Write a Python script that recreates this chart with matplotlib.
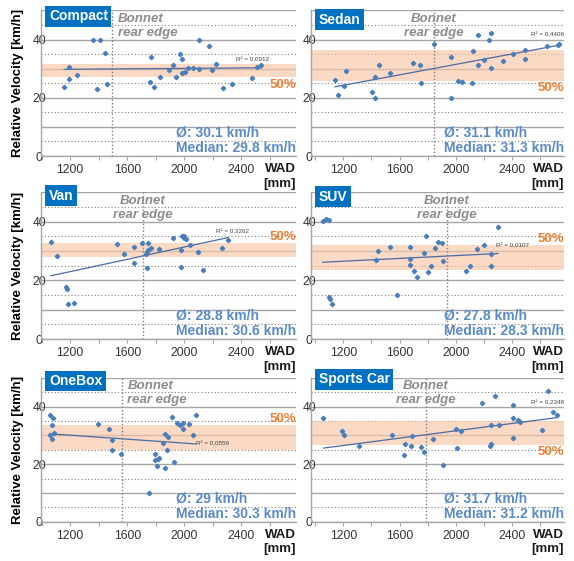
import matplotlib
matplotlib.use('Agg')
import matplotlib.pyplot as plt
import numpy as np

plt.rcParams['font.family'] = ['Liberation Sans', 'DejaVu Sans']

# ---- data ----
titles = ['Compact', 'Sedan', 'Van', 'SUV', 'OneBox', 'Sports Car']

compact_wad = [1158, 1188, 1188, 1247, 1360, 1386, 1412, 1447, 1461, 1760, 1765, 1784, 1831, 1894, 1922, 1944,
               1972, 1984, 1984, 2002, 2024, 2064, 2106, 2106, 2172, 2191, 2224, 2273, 2332, 2478, 2513, 2541]
compact_vel = [23.8, 30.6, 26.5, 27.9, 40.0, 22.9, 39.7, 35.4, 24.7, 25.3, 34.1, 23.8, 27.3, 29.6, 31.1, 27.2,
               35.1, 33.3, 28.6, 28.8, 30.2, 30.3, 40.0, 29.9, 37.8, 29.5, 31.7, 23.3, 24.8, 26.9, 30.5, 31.1]

sedan_wad = [1141, 1164, 1207, 1217, 1402, 1425, 1425, 1456, 1532, 1693, 1745, 1752, 1845, 1968, 1968, 2018,
             2046, 2113, 2125, 2156, 2158, 2201, 2234, 2248, 2248, 2338, 2409, 2492, 2492, 2651, 2724, 2736]
sedan_vel = [26.1, 20.9, 24.0, 29.3, 22.1, 20.1, 27.0, 31.3, 28.6, 32.1, 31.1, 25.1, 38.4, 34.1, 19.8, 25.8,
             25.4, 25.1, 36.1, 31.2, 41.6, 33.0, 39.8, 42.3, 30.1, 32.8, 34.9, 36.3, 33.3, 37.9, 38.1, 38.6]

van_wad = [1066, 1108, 1172, 1179, 1186, 1224, 1525, 1576, 1645, 1649, 1706, 1734, 1736, 1736, 1746,
           1748, 1765, 1824, 1922, 1976, 1979, 1984, 1995, 2000, 2014, 2040, 2099, 2132, 2264, 2308]
van_vel = [33.2, 28.2, 17.6, 17.2, 11.9, 12.4, 32.4, 29.1, 31.4, 25.9, 32.8, 28.9, 24.3, 29.8, 32.6,
           30.2, 31.0, 30.6, 34.4, 24.7, 30.3, 35.1, 35.3, 34.3, 34.0, 32.0, 29.8, 23.6, 31.1, 33.8]

suv_wad = [1053, 1077, 1101, 1101, 1108, 1117, 1429, 1447, 1535, 1583, 1677, 1677, 1677, 1703, 1726,
           1774, 1786, 1802, 1826, 1852, 1876, 1902, 1908, 2075, 2103, 2151, 2198, 2251, 2253, 2300]
suv_vel = [40.2, 40.9, 40.6, 14.2, 13.7, 12.0, 27.1, 29.9, 31.3, 14.9, 31.3, 27.4, 25.3, 23.1, 21.1,
           29.5, 35.1, 23.0, 25.0, 31.0, 33.0, 32.8, 26.5, 23.2, 24.9, 30.7, 32.2, 25.0, 29.0, 38.2]

onebox_wad = [1059, 1071, 1059, 1071, 1082, 1087, 1395, 1471, 1494, 1496, 1558, 1751, 1791, 1795, 1809, 1812,
              1824, 1852, 1866, 1868, 1882, 1887, 1913, 1929, 1948, 1972, 1988, 1988, 2035, 2059, 2080]
onebox_vel = [37.1, 33.6, 30.1, 28.7, 36.2, 30.7, 34.1, 32.3, 28.4, 24.8, 23.6, 10.0, 23.6, 21.4, 19.5, 21.9,
              22.2, 27.5, 18.8, 30.6, 24.8, 29.5, 36.4, 20.7, 34.4, 33.5, 34.2, 32.4, 34.0, 30.1, 37.1]

sports_wad = [1059, 1193, 1207, 1311, 1546, 1631, 1642, 1682, 1691, 1753, 1772, 1835, 1908, 2005, 2012, 2040,
              2186, 2240, 2252, 2254, 2280, 2306, 2405, 2407, 2407, 2445, 2459, 2614, 2654, 2689, 2718]
sports_vel = [36.2, 31.4, 30.2, 26.5, 30.3, 23.1, 27.2, 26.5, 29.9, 25.9, 24.2, 28.9, 19.6, 32.3, 25.8, 31.6,
              41.4, 26.5, 27.0, 33.5, 43.8, 33.7, 40.6, 36.2, 29.2, 35.5, 34.6, 31.9, 45.5, 38.0, 37.2]

wads = [compact_wad, sedan_wad, van_wad, suv_wad, onebox_wad, sports_wad]
vels = [compact_vel, sedan_vel, van_vel, suv_vel, onebox_vel, sports_vel]

band_low = [27.0, 25.7, 28.1, 23.4, 24.9, 26.7]
band_high = [31.5, 36.3, 32.6, 32.2, 33.8, 35.2]
bonnet_x = [1495, 1845, 1710, 1935, 1560, 1785]
means = ['30.1', '31.1', '28.8', '27.8', '29', '31.7']
medians = ['29.8', '31.3', '30.6', '28.3', '30.3', '31.2']
r2_text = ['0,0012', '0,4406', '0,3262', '0,0107', '0,0559', '0,2348']

# ---- layout / style ----
rects = [[0.0714, 0.7219, 0.444, 0.2594], [0.5413, 0.7219, 0.4413, 0.2594],
         [0.0714, 0.3957, 0.444, 0.2613], [0.5413, 0.3957, 0.4413, 0.2613],
         [0.0714, 0.0701, 0.444, 0.2561], [0.5413, 0.0701, 0.4413, 0.2561]]
xlims = [(995, 2782), (968, 2770)] * 3
title_y = [0.959, 0.938, 0.979, 0.972, 0.979, 0.99]
pct_y = [24.3, 23.2, 34.7, 34.2, 35.9, 24.4]
r2_pos = [(2478, 33.3, 'center'), (2770, 41.7, 'right'), (2335, 36.6, 'center'),
          (2400, 31.9, 'center'), (2200, 27.3, 'center'), (2770, 41.5, 'right')]
bonnet_left = [True, False, False, False, True, False]

blue_pts = '#4a7ebb'
blue_txt = '#5a8ac6'
trend_c = '#4a6aa3'

fig = plt.figure(figsize=(5.74, 5.61), dpi=100)

for i in range(6):
    ax = fig.add_axes(rects[i])
    x = np.array(wads[i])
    y = np.array(vels[i])
    ax.set_xlim(*xlims[i])
    ax.set_ylim(0, 50)

    ax.set_yticks([0, 10, 20, 30, 40, 50])
    ax.set_yticklabels(['0', '', '20', '', '40', ''])
    ax.set_yticks([5, 15, 25, 35, 45], minor=True)
    ax.set_xticks([1200, 1600, 2000, 2400])
    ax.set_xticks([1000, 1400, 1800, 2200, 2600], minor=True)
    ax.tick_params(axis='y', which='both', length=0, pad=1.2, labelsize=8.7, labelcolor='#333333')
    for lab in ax.get_yticklabels():
        lab.set_horizontalalignment('center')
    ax.tick_params(axis='x', which='both', length=3, width=0.8, color='#a6a6a6',
                   pad=3, labelsize=8.7, labelcolor='#333333')

    ax.grid(axis='y', which='major', color='#a6a6a6', lw=1.0, ls='-')
    ax.grid(axis='y', which='minor', color='#808080', lw=0.8, ls=(0, (1, 2)))
    ax.set_axisbelow(True)
    for s in ['top', 'right']:
        ax.spines[s].set_visible(False)
    for s in ['left', 'bottom']:
        ax.spines[s].set_color('#a6a6a6')
        ax.spines[s].set_linewidth(1.0)

    ax.axhspan(band_low[i], band_high[i], color='#f8c6a6', alpha=0.65, lw=0, zorder=1)
    ax.axvline(bonnet_x[i], color='#808080', lw=1.0, ls=(0, (1, 1.5)), zorder=1.5)

    k, b = np.polyfit(x, y, 1)
    xs = np.array([x.min(), x.max()])
    ax.plot(xs, k * xs + b, color=trend_c, lw=0.9, zorder=2)
    ax.plot(x, y, ls='none', marker='D', ms=2.2, color=blue_pts, mec=blue_pts, zorder=3)

    ax.text(r2_pos[i][0], r2_pos[i][1], 'R² = ' + r2_text[i], fontsize=4.5, color='#404040',
            ha=r2_pos[i][2], va='center', zorder=4)

    if bonnet_left[i]:
        ax.text(bonnet_x[i] + 40, 44.8, 'Bonnet\nrear edge', ha='left', va='center',
                fontsize=9.5, fontweight='bold', fontstyle='italic', color='#8c8c8c', linespacing=1.25)
    else:
        ax.text(bonnet_x[i], 44.8, 'Bonnet\nrear edge', ha='center', va='center', multialignment='center',
                fontsize=9.5, fontweight='bold', fontstyle='italic', color='#8c8c8c', linespacing=1.25)

    ax.text(0.031, title_y[i], titles[i], transform=ax.transAxes, ha='left', va='center',
            fontsize=10, fontweight='bold', color='white', zorder=5,
            bbox=dict(boxstyle='square,pad=0.25', fc='#0070c0', ec='none'))

    ax.text(1.0, pct_y[i], '50%', transform=ax.get_yaxis_transform(), ha='right', va='center',
            fontsize=9.5, fontweight='bold', color='#f47d30', zorder=4)

    ax.text(1.0, 5.4, 'Ø: ' + means[i] + ' km/h\nMedian: ' + medians[i] + ' km/h',
            transform=ax.get_yaxis_transform(), ha='right', va='center', multialignment='left',
            fontsize=10, fontweight='bold', color=blue_txt, linespacing=1.1, zorder=4)

    ax.annotate('WAD\n[mm]', xy=(1, 0), xycoords='axes fraction', xytext=(0, -5),
                textcoords='offset points', ha='right', va='top', multialignment='right',
                fontsize=9.5, fontweight='bold', color='#1a1a1a', linespacing=1.3)

    if i % 2 == 0:
        ax.set_ylabel('Relative Velocity [km/h]', fontsize=9.5, fontweight='bold', labelpad=6)

fig.savefig('out.png', dpi=100)
